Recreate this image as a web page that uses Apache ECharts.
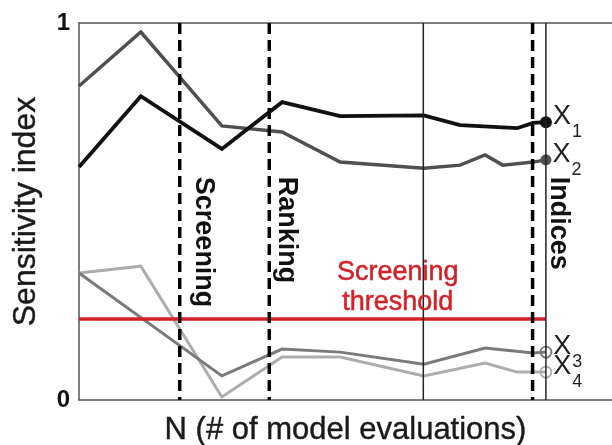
<!DOCTYPE html>
<html>
<head>
<meta charset="utf-8">
<script src="https://cdn.jsdelivr.net/npm/echarts@6/dist/echarts.min.js"></script>
<style>html,body{margin:0;padding:0;background:#fff}#c{width:612px;height:445px}</style>
</head>
<body>
<div id="c"></div>
<script>
// ---- data (x = N in normalized units, y = sensitivity index) ----
const seriesNames = ['1', '2', '3', '4'];
const x1 = [[0,0.618],[11.6,0.806],[26.8,0.666],[38.1,0.790],[49.0,0.753],[64.7,0.755],[71.5,0.729],[82.2,0.721],[85.2,0.735],[87.6,0.737]];
const x2 = [[0,0.833],[11.6,0.976],[26.8,0.727],[38.1,0.711],[49.0,0.631],[64.7,0.615],[71.5,0.623],[76.2,0.650],[79.5,0.623],[85.2,0.631],[87.6,0.637]];
const x3 = [[0,0.337],[26.8,0.064],[38.1,0.135],[49.0,0.127],[64.7,0.095],[76.2,0.138],[85.2,0.125],[87.6,0.127]];
const x4 = [[0,0.337],[11.6,0.355],[26.8,0.008],[38.1,0.114],[49.0,0.114],[64.7,0.064],[76.2,0.098],[82.2,0.074],[87.6,0.074]];
const thresholdValue = 0.215;
const thresholdEnd = 87.6;
const dashedBoundaries = [18.9, 35.7, 85.1];
const solidBoundaries = [64.6, 87.6];
const phaseLabels = ['Screening', 'Ranking', 'Indices'];
const phaseLabelX = [23.3, 39.0, 90.0];
const phaseLabelTop = 0.592;
const thresholdLabel = 'Screening\nthreshold';
const thresholdLabelPos = [59.8, 0.297];
const yTicks = [0, 1];

const FONT = "'Liberation Sans', Arial, sans-serif";
const lineColors = ['#111111', '#505050', '#7a7a7a', '#adadad'];
const lineWidths = [3.8, 3.5, 3, 3];
const markerFill = ['#111111', '#505050', 'rgba(0,0,0,0)', 'rgba(0,0,0,0)'];
const markerSize = [12, 11, 11, 11];
const seriesData = [x1, x2, x3, x4];

function buildLine(idx) {
  const d = seriesData[idx];
  const data = d.map((p, i) => {
    if (i < d.length - 1) return { value: p, symbol: 'none' };
    return {
      value: p,
      symbol: 'circle',
      symbolSize: markerSize[idx],
      itemStyle: { color: markerFill[idx], borderColor: lineColors[idx], borderWidth: idx >= 2 ? 1.8 : 0 },
      label: {
        show: true, position: 'right', distance: 1,
        formatter: '{x|X}{s|' + seriesNames[idx] + '}',
        rich: {
          x: { fontFamily: FONT, fontSize: 27, color: '#222', verticalAlign: 'top', lineHeight: 27 },
          s: { fontFamily: FONT, fontSize: 18, color: '#222', verticalAlign: 'bottom', lineHeight: 38, padding: [0, 0, 0, 1] }
        }
      }
    };
  });
  return {
    type: 'line', name: 'X' + seriesNames[idx], data: data,
    showSymbol: true, symbol: 'none', animation: false,
    lineStyle: { color: lineColors[idx], width: lineWidths[idx], join: 'miter' },
    itemStyle: { color: lineColors[idx] },
    z: 10 - idx
  };
}

const series = [3, 2, 1, 0].map(buildLine);

series.push({
  type: 'line', data: [[0, thresholdValue], [thresholdEnd, thresholdValue]],
  symbol: 'none', lineStyle: { color: '#d42027', width: 3.5 }, z: 12, animation: false
});
dashedBoundaries.forEach(b => series.push({
  type: 'line', data: [[b, 1], [b, 0]], symbol: 'none', animation: false,
  lineStyle: { color: '#000', width: 3.5, type: [11, 6] }, z: 13
}));
solidBoundaries.forEach(b => series.push({
  type: 'line', data: [[b, 1], [b, 0]], symbol: 'none', animation: false,
  lineStyle: { color: '#222', width: 1.5 }, z: 13
}));
// phase labels (vertical, bold)
series.push({
  type: 'custom', z: 14, animation: false,
  data: phaseLabels.map((t, i) => [phaseLabelX[i], phaseLabelTop, t]),
  renderItem: function (params, api) {
    const p = api.coord([api.value(0), api.value(1)]);
    return {
      type: 'text', x: p[0], y: p[1], rotation: -Math.PI / 2,
      style: { text: phaseLabels[params.dataIndex], fontFamily: FONT, fontWeight: 'bold', fontSize: 27,
        fill: '#111', align: 'left', verticalAlign: 'middle' }
    };
  }
});
// threshold label
series.push({
  type: 'custom', z: 14, animation: false,
  data: [[thresholdLabelPos[0], thresholdLabelPos[1]]],
  renderItem: function (params, api) {
    const p = api.coord([api.value(0), api.value(1)]);
    return {
      type: 'text', x: p[0], y: p[1],
      style: { text: thresholdLabel, fontFamily: FONT, fontSize: 27, lineHeight: 30,
        fill: '#d42027', stroke: '#d42027', lineWidth: 0.5, align: 'center', verticalAlign: 'middle' }
    };
  }
});

const chart = echarts.init(document.getElementById('c'), null, { renderer: 'canvas' });
chart.setOption({
  animation: false,
  backgroundColor: '#fff',
  grid: { left: 79, top: 23, right: 0, bottom: 45, containLabel: false, outerBoundsMode: 'none' },
  xAxis: [{
    type: 'value', min: 0, max: 100, position: 'bottom',
    name: 'N (# of model evaluations)', nameLocation: 'middle', nameGap: 15,
    nameTextStyle: { fontFamily: FONT, fontSize: 31, color: '#1a1a1a', textBorderColor: '#1a1a1a', textBorderWidth: 0.4 },
    axisLine: { show: true, lineStyle: { color: '#555', width: 1.5 } },
    axisTick: { show: false }, axisLabel: { show: false }, splitLine: { show: false }
  }, {
    type: 'value', min: 0, max: 100, position: 'top',
    axisLine: { show: true, lineStyle: { color: '#555', width: 1.5 } },
    axisTick: { show: false }, axisLabel: { show: false }, splitLine: { show: false }
  }],
  yAxis: {
    type: 'value', min: yTicks[0], max: yTicks[yTicks.length - 1], interval: 1,
    name: 'Sensitivity index', nameLocation: 'middle', nameGap: 37,
    nameTextStyle: { fontFamily: FONT, fontSize: 32, color: '#1a1a1a', textBorderColor: '#1a1a1a', textBorderWidth: 0.4 },
    axisLine: { show: true, lineStyle: { color: '#555', width: 1.5 } },
    axisTick: { show: false }, splitLine: { show: false },
    axisLabel: { fontFamily: FONT, fontSize: 24, fontWeight: 'bold', color: '#111', margin: 9 }
  },
  series: series
});
</script>
</body>
</html>
